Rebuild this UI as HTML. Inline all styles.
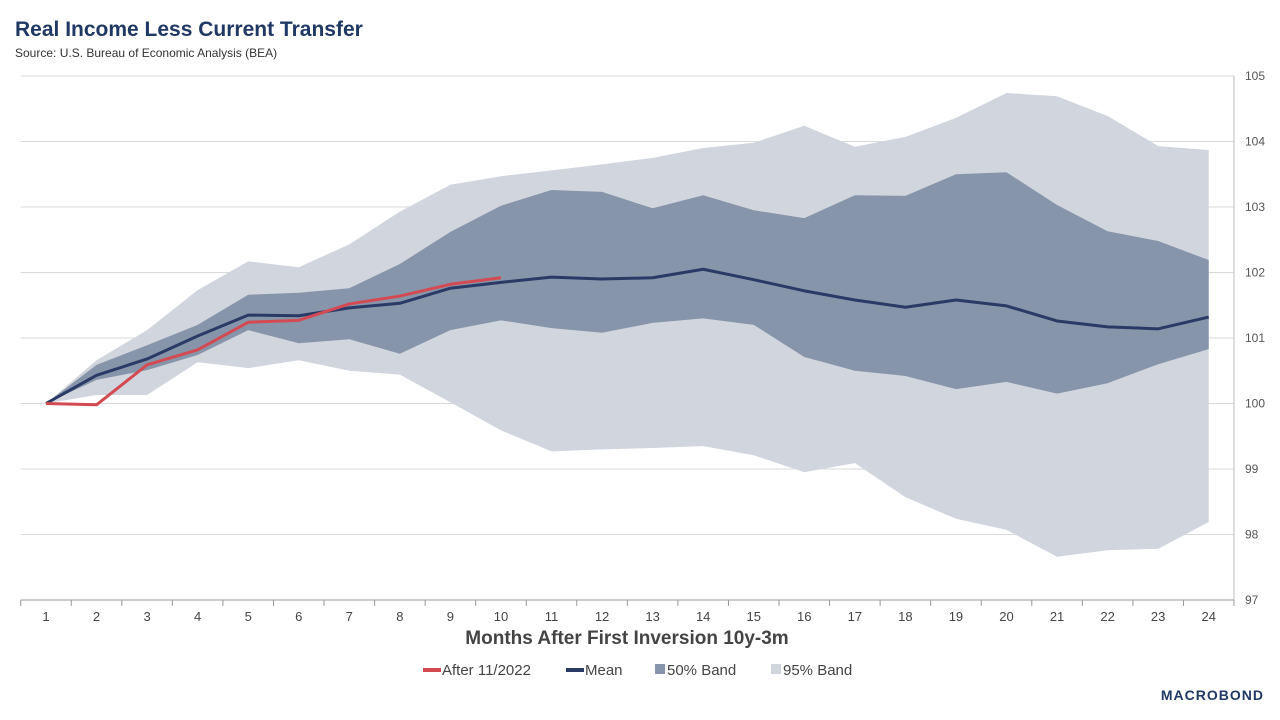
<!DOCTYPE html>
<html><head><meta charset="utf-8"><style>
body{margin:0;background:#fff;font-family:"Liberation Sans",sans-serif;}
#wrap{position:relative;width:1280px;height:720px;overflow:hidden;}
</style></head><body>
<div id="wrap">
<svg id="c" width="1280" height="720" xmlns="http://www.w3.org/2000/svg">
<text x="15" y="36" font-size="21" font-weight="bold" fill="#1f3864">Real Income Less Current Transfer</text>
<text x="15" y="57" font-size="12" fill="#333">Source: U.S. Bureau of Economic Analysis (BEA)</text>
<g id="grid"></g>
<g id="bands"></g>
<g id="lines"></g>
<g id="axes"></g>
<text x="627" y="644" font-size="19" font-weight="bold" fill="#444" text-anchor="middle">Months After First Inversion 10y-3m</text>
<g font-size="15" fill="#444">
<g><rect x="423" y="668" width="18" height="4" fill="#d44a52"/><text x="442" y="675">After 11/2022</text></g>
<g><rect x="566" y="668" width="18" height="4" fill="#2a3a66"/><text x="585" y="675">Mean</text></g>
<g><rect x="655" y="664" width="10" height="10" fill="#8795aa"/><text x="667" y="675">50% Band</text></g>
<g><rect x="771" y="664" width="10" height="10" fill="#d1d6de"/><text x="783" y="675">95% Band</text></g>
</g>
<text x="1264" y="700" font-size="14" font-weight="bold" fill="#1f3864" text-anchor="end" letter-spacing="1">MACROBOND</text>
</svg>
</div>
<script>
const categories=[1,2,3,4,5,6,7,8,9,10,11,12,13,14,15,16,17,18,19,20,21,22,23,24];
const yTicks=[97,98,99,100,101,102,103,104,105];
const meanVals=[100,100.43,100.68,101.03,101.35,101.34,101.46,101.53,101.76,101.85,101.93,101.9,101.92,102.05,101.89,101.72,101.58,101.47,101.58,101.49,101.26,101.17,101.14,101.32];
const afterVals=[100,99.98,100.59,100.82,101.24,101.27,101.52,101.64,101.82,101.92];
const band50Upper=[100,100.59,100.89,101.2,101.66,101.69,101.76,102.13,102.62,103.02,103.26,103.23,102.98,103.18,102.95,102.83,103.18,103.17,103.5,103.53,103.03,102.63,102.48,102.19];
const band50Lower=[100,100.36,100.51,100.74,101.12,100.92,100.98,100.76,101.12,101.27,101.15,101.08,101.23,101.3,101.2,100.71,100.5,100.42,100.22,100.33,100.15,100.31,100.6,100.83];
const band95Upper=[100,100.66,101.12,101.73,102.17,102.08,102.43,102.93,103.34,103.47,103.56,103.65,103.75,103.9,103.98,104.24,103.92,104.07,104.36,104.74,104.69,104.39,103.93,103.87];
const band95Lower=[100,100.13,100.13,100.63,100.54,100.66,100.5,100.44,100.02,99.59,99.27,99.3,99.32,99.35,99.21,98.95,99.09,98.57,98.24,98.07,97.66,97.76,97.78,98.19];

const NS='http://www.w3.org/2000/svg';
const L=20.7,R=1234,T=76,B=600,ymin=97,ymax=105;
const bw=(R-L)/categories.length;
const x=i=>L+bw*(i+0.5);
const y=v=>B-(v-ymin)/(ymax-ymin)*(B-T);
function mk(tag,attrs,parent){const e=document.createElementNS(NS,tag);for(const k in attrs)e.setAttribute(k,attrs[k]);parent.appendChild(e);return e;}
const grid=document.getElementById('grid'),axes=document.getElementById('axes'),bands=document.getElementById('bands'),lines=document.getElementById('lines');
yTicks.forEach(t=>{
  const g=mk('line',{x1:L,x2:R,y1:y(t),y2:y(t),stroke:'#d9d9d9','stroke-width':1},grid);
  
  
  const tx=mk('text',{x:1245,y:y(t)+4,'font-size':12,fill:'#555'},axes);
  tx.textContent=t;
  
  
});
mk('line',{x1:R,x2:R,y1:T,y2:B,stroke:'#bbb'},axes);
mk('line',{x1:L,x2:R,y1:B,y2:B,stroke:'#999'},axes);
categories.forEach((c,i)=>{
  mk('line',{x1:L+bw*i,x2:L+bw*i,y1:B,y2:B+6,stroke:'#999'},axes);
  const tx=mk('text',{x:x(i),y:621,'font-size':13,fill:'#444','text-anchor':'middle'},axes);
  tx.textContent=c;
  
  
});
mk('line',{x1:R,x2:R,y1:B,y2:B+6,stroke:'#999'},axes);
function band(up,lo,fill,name){
  let p=up.map((v,i)=>x(i)+','+y(v)).join(' ')+' '+lo.map((v,i)=>x(i)+','+y(v)).reverse().join(' ');
  const e=mk('polygon',{points:p,fill:fill},bands);
  
  
}
band(band95Upper,band95Lower,'#d1d6de','band-95');
band(band50Upper,band50Lower,'#8795aa','band-50');
function line(vals,col,name){
  const e=mk('polyline',{points:vals.map((v,i)=>x(i)+','+y(v)).join(' '),fill:'none',stroke:col,'stroke-width':3,'stroke-linejoin':'round'},lines);
  
  
}
line(meanVals,'#2a3a66','mean-line');
line(afterVals,'#d44a52','after-2022-line');
</script>
</body></html>
